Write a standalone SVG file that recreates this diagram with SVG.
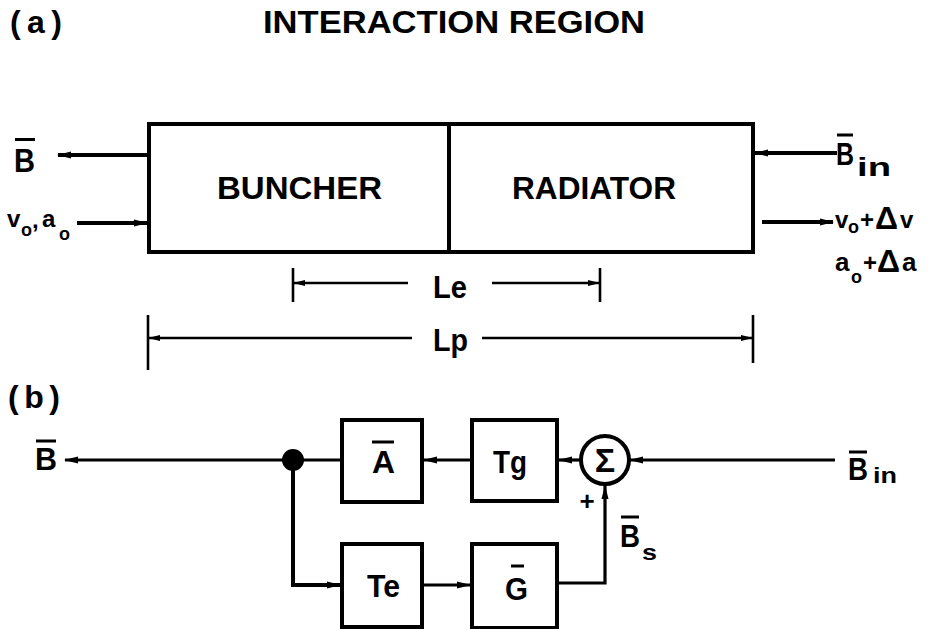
<svg xmlns="http://www.w3.org/2000/svg" width="936" height="629" viewBox="0 0 936 629">
<style>
.t{font-family:"Liberation Sans",Arial,sans-serif;font-weight:bold;fill:#000}
.box{fill:#fff;stroke:#000;stroke-width:4}
.thick{fill:none;stroke:#000;stroke-width:4}
.ln{fill:none;stroke:#000;stroke-width:3.2}
.dim{fill:none;stroke:#000;stroke-width:2.6}
.bar{stroke:#000;stroke-width:3;fill:none}
</style>
<defs>
<marker id="ah" markerUnits="userSpaceOnUse" markerWidth="14" markerHeight="8" refX="13" refY="4" orient="auto"><path d="M0,0.5 L14,4 L0,7.5 z" fill="#000"/></marker>
<marker id="ahs" markerUnits="userSpaceOnUse" markerWidth="12" markerHeight="7" refX="11" refY="3.5" orient="auto"><path d="M0,0.5 L12,3.5 L0,6.5 z" fill="#000"/></marker>
</defs>

<text class="t" x="10" y="33" font-size="32" textLength="52" lengthAdjust="spacing">(a)</text>
<text class="t" x="263" y="33" font-size="32" textLength="382" lengthAdjust="spacingAndGlyphs">INTERACTION REGION</text>

<g id="interaction-box">
<rect class="thick" x="149" y="124" width="604" height="128"/>
<line class="thick" x1="449" y1="124" x2="449" y2="252"/>
</g>
<g id="buncher">
<text class="t" x="217" y="199" font-size="32" textLength="165" lengthAdjust="spacingAndGlyphs">BUNCHER</text>
</g>
<g id="radiator">
<text class="t" x="512" y="199" font-size="32" textLength="164" lengthAdjust="spacingAndGlyphs">RADIATOR</text>
</g>

<g id="labels-a">
<text class="t" x="14" y="172" font-size="34" textLength="21" lengthAdjust="spacingAndGlyphs">B</text>
<line class="bar" x1="15" y1="139.5" x2="35" y2="139.5"/>
<text class="t" font-size="24"><tspan x="7" y="227">v</tspan><tspan x="21" y="236" font-size="18">o</tspan><tspan x="32" y="228">,</tspan><tspan x="42" y="227">a</tspan><tspan x="59" y="240" font-size="18">o</tspan></text>
<text class="t" x="836" y="165" font-size="32" textLength="18" lengthAdjust="spacingAndGlyphs">B</text>
<line class="bar" x1="837" y1="135" x2="853" y2="135"/>
<text class="t" x="857" y="176" font-size="26" textLength="34" lengthAdjust="spacingAndGlyphs">in</text>
<text class="t" font-size="24"><tspan x="835" y="228">v</tspan><tspan x="848" y="233" font-size="18">o</tspan><tspan x="860" y="228">+</tspan><tspan x="875" y="229" font-size="32">Δ</tspan><tspan x="900" y="228">v</tspan></text>
<text class="t" font-size="26"><tspan x="835" y="271">a</tspan><tspan x="851" y="283" font-size="18">o</tspan><tspan x="863" y="271" font-size="24">+</tspan><tspan x="877" y="272" font-size="32">Δ</tspan><tspan x="902" y="271">a</tspan></text>
<text class="t" x="433" y="298" font-size="32" textLength="34" lengthAdjust="spacingAndGlyphs">Le</text>
<text class="t" x="433" y="351" font-size="32" textLength="35" lengthAdjust="spacingAndGlyphs">Lp</text>
</g>

<text class="t" x="8" y="408" font-size="32" textLength="52" lengthAdjust="spacing">(b)</text>

<g id="block-A">
<rect class="box" x="342" y="420" width="80" height="82"/>
<text class="t" x="372" y="473" font-size="32" textLength="23" lengthAdjust="spacingAndGlyphs">A</text>
<line class="bar" x1="372" y1="442" x2="394" y2="442"/>
</g>
<g id="block-Tg">
<rect class="box" x="472" y="420" width="85" height="81"/>
<text class="t" x="493" y="473" font-size="32" textLength="34" lengthAdjust="spacingAndGlyphs">Tg</text>
</g>
<g id="sum">
<circle cx="605" cy="460" r="24" fill="#fff" stroke="#000" stroke-width="4"/>
<text class="t" x="605" y="472" font-size="34" text-anchor="middle">Σ</text>
<text class="t" x="587" y="510" font-size="26" text-anchor="middle">+</text>
</g>
<g id="block-Te">
<rect class="box" x="342" y="544" width="80" height="83"/>
<text class="t" x="367" y="597" font-size="32" textLength="33" lengthAdjust="spacingAndGlyphs">Te</text>
</g>
<g id="block-G">
<rect class="box" x="472" y="544" width="85" height="84"/>
<text class="t" x="505" y="600" font-size="31" textLength="23" lengthAdjust="spacingAndGlyphs">G</text>
<line class="bar" x1="511" y1="566" x2="524" y2="566"/>
</g>
<g id="labels-b">
<text class="t" x="35" y="470" font-size="32" textLength="22" lengthAdjust="spacingAndGlyphs">B</text>
<line class="bar" x1="36" y1="441" x2="56" y2="441"/>
<text class="t" x="848" y="480" font-size="31" textLength="20" lengthAdjust="spacingAndGlyphs">B</text>
<line class="bar" x1="849" y1="452" x2="867" y2="452"/>
<text class="t" x="873" y="483" font-size="22" textLength="24" lengthAdjust="spacingAndGlyphs">in</text>
<text class="t" x="620" y="547" font-size="32" textLength="20" lengthAdjust="spacingAndGlyphs">B</text>
<line class="bar" x1="621" y1="517" x2="639" y2="517"/>
<text class="t" x="642" y="560" font-size="22" textLength="15" lengthAdjust="spacingAndGlyphs">s</text>
</g>

<g id="connectors">
<line class="thick" x1="148" y1="155" x2="58" y2="155" marker-end="url(#ah)"/>
<line class="thick" x1="77" y1="223" x2="147" y2="223" marker-end="url(#ah)"/>
<line class="thick" x1="837" y1="153" x2="755" y2="153" marker-end="url(#ah)"/>
<line class="thick" x1="762" y1="222" x2="833" y2="222" marker-end="url(#ah)"/>
<line class="dim" x1="293" y1="268" x2="293" y2="302"/>
<line class="dim" x1="600" y1="268" x2="600" y2="302"/>
<line class="dim" x1="408" y1="283" x2="294" y2="283" marker-end="url(#ahs)"/>
<line class="dim" x1="492" y1="283" x2="599" y2="283" marker-end="url(#ahs)"/>
<line class="dim" x1="148" y1="315" x2="148" y2="370"/>
<line class="dim" x1="753" y1="315" x2="753" y2="363"/>
<line class="dim" x1="412" y1="338" x2="149" y2="338" marker-end="url(#ahs)"/>
<line class="dim" x1="482" y1="338" x2="752" y2="338" marker-end="url(#ahs)"/>
<line class="ln" x1="342" y1="460" x2="65" y2="460" marker-end="url(#ah)"/>
<circle cx="293" cy="460" r="11" fill="#000"/>
<polyline class="thick" points="293,460 293,585 340,585" marker-end="url(#ah)"/>
<line class="ln" x1="472" y1="460" x2="424" y2="460" marker-end="url(#ah)"/>
<line class="ln" x1="581" y1="460" x2="559" y2="460" marker-end="url(#ah)"/>
<line class="ln" x1="835" y1="460" x2="630" y2="460" marker-end="url(#ah)"/>
<line class="ln" x1="424" y1="585" x2="470" y2="585" marker-end="url(#ah)"/>
<polyline class="ln" points="559,583 605,583 605,486" marker-end="url(#ah)"/>
</g>
</svg>
